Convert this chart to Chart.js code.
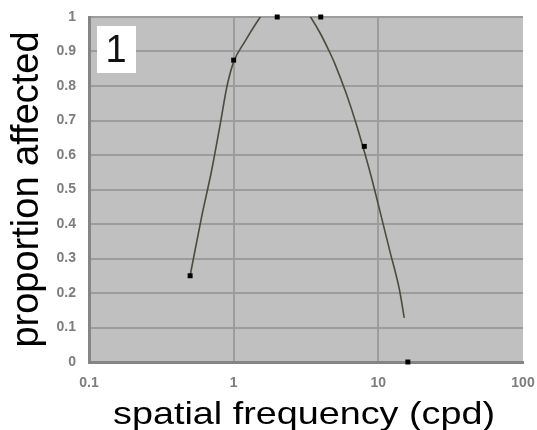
<!DOCTYPE html>
<html>
<head>
<meta charset="utf-8">
<script src="https://cdn.jsdelivr.net/npm/chart.js@4.4.1/dist/chart.umd.min.js"></script>
<style>
  body { margin: 0; background: #fff; }
  canvas { display: block; }
</style>
</head>
<body>
<canvas id="myChart" width="537" height="430"></canvas>
<script>
// measured points (spatial frequency in cpd, proportion affected)
var freq = [0.5, 1, 2, 4, 8, 16];
var proportion = [0.25, 0.875, 1, 1, 0.625, 0];

// fitted curve, read along its length (peak runs off the top of the plot)
var fitFreq = [0.5, 0.6, 0.7, 0.8, 0.9, 1, 1.2, 1.5, 1.8, 2.3, 2.8, 3.4, 4, 4.5, 5, 6, 7, 8, 9, 10, 12, 14, 15.1];
var fitValue = [0.25, 0.42, 0.55, 0.68, 0.8, 0.87, 0.93, 0.995, 1.04, 1.065, 1.048, 1, 0.95, 0.907, 0.865, 0.778, 0.693, 0.61, 0.532, 0.456, 0.322, 0.209, 0.128];

var xTicks = [0.1, 1, 10, 100];
var xTickLabels = ['0.1', '1', '10', '100'];
var yTickLabels = ['0', '0.1', '0.2', '0.3', '0.4', '0.5', '0.6', '0.7', '0.8', '0.9', '1'];

var panelLabel = '1';
var xTitle = 'spatial frequency (cpd)';

var gridGrey = '#9c9c9c';
var tickFont = { family: 'Liberation Sans', size: 14, weight: 'bold' };

// grey plot background, the white panel number box and a widened x title
var plotDecor = {
    id: 'plotDecor',
    beforeDraw: function(chart) {
        var a = chart.chartArea, c = chart.ctx;
        c.save();
        c.fillStyle = '#c0c0c0';
        c.fillRect(a.left, a.top, a.right - a.left, a.bottom - a.top);
        c.restore();
    },
    afterDatasetsDraw: function(chart) {
        var a = chart.chartArea, c = chart.ctx;
        c.save();
        c.fillStyle = '#ffffff';
        c.fillRect(a.left + 8, a.top + 9, 39, 47);
        c.fillStyle = '#111';
        c.font = '38px "Liberation Sans"';
        c.textAlign = 'center';
        c.textBaseline = 'middle';
        c.fillText(panelLabel, a.left + 27, a.top + 35);
        c.restore();
    },
    afterDraw: function(chart) {
        var a = chart.chartArea, c = chart.ctx;
        c.save();
        c.translate((a.left + a.right) / 2 - 2, 424);
        c.scale(1.18, 1);
        c.fillStyle = '#000';
        c.font = '32px "Liberation Sans"';
        c.textAlign = 'center';
        c.textBaseline = 'alphabetic';
        c.fillText(xTitle, 0, 0);
        c.restore();
    }
};

var ctx = document.getElementById('myChart').getContext('2d');
var chart = new Chart(ctx, {
    type: 'scatter',
    data: {
        datasets: [{
            label: 'fit',
            type: 'line',
            data: fitFreq.map(function(f, i) { return { x: f, y: fitValue[i] }; }),
            borderColor: '#4b4b3e',
            borderWidth: 1.6,
            pointRadius: 0,
            cubicInterpolationMode: 'monotone',
            clip: 0,
            order: 2
        }, {
            label: 'data',
            data: freq.map(function(f, i) { return { x: f, y: proportion[i] }; }),
            pointStyle: 'rect',
            pointRadius: 3.5,
            backgroundColor: '#000',
            borderColor: '#000',
            borderWidth: 0,
            clip: false,
            order: 1
        }]
    },
    options: {
        responsive: false,
        animation: false,
        layout: { padding: { top: 17, right: 14, left: 0, bottom: 0 } },
        plugins: {
            legend: { display: false },
            tooltip: { enabled: false }
        },
        scales: {
            x: {
                type: 'logarithmic',
                min: 0.1,
                max: 100,
                afterFit: function(s) {
                    s.height = 68;
                    s.paddingLeft = 0;
                    s.paddingRight = 0;
                },
                afterBuildTicks: function(s) {
                    s.ticks = xTicks.map(function(v) { return { value: v }; });
                },
                ticks: {
                    autoSkip: false,
                    maxRotation: 0,
                    padding: 13,
                    color: '#7d7d7d',
                    font: tickFont,
                    callback: function(v) {
                        var i = xTicks.indexOf(v);
                        return i >= 0 ? xTickLabels[i] : '';
                    }
                },
                grid: {
                    drawTicks: false,
                    lineWidth: 2,
                    color: function(c) {
                        return c.tick && c.tick.value === 100 ? 'rgba(0,0,0,0)' : gridGrey;
                    }
                },
                border: { color: '#858585', width: 3 },
                title: { display: false }
            },
            y: {
                min: 0,
                max: 1,
                afterFit: function(s) {
                    s.width = 89;
                    s.paddingTop = 0;
                    s.paddingBottom = 0;
                },
                ticks: {
                    stepSize: 0.1,
                    padding: 13,
                    color: '#7d7d7d',
                    font: tickFont,
                    callback: function(v) {
                        return yTickLabels[Math.round(v * 10)];
                    }
                },
                grid: { drawTicks: false, lineWidth: 2, color: gridGrey },
                border: { color: '#858585', width: 3 },
                title: {
                    display: true,
                    text: 'proportion affected',
                    color: '#000',
                    font: { family: 'Liberation Sans', size: 38 },
                    padding: { top: 5, bottom: 0 }
                }
            }
        }
    },
    plugins: [plotDecor]
});
</script>
</body>
</html>
